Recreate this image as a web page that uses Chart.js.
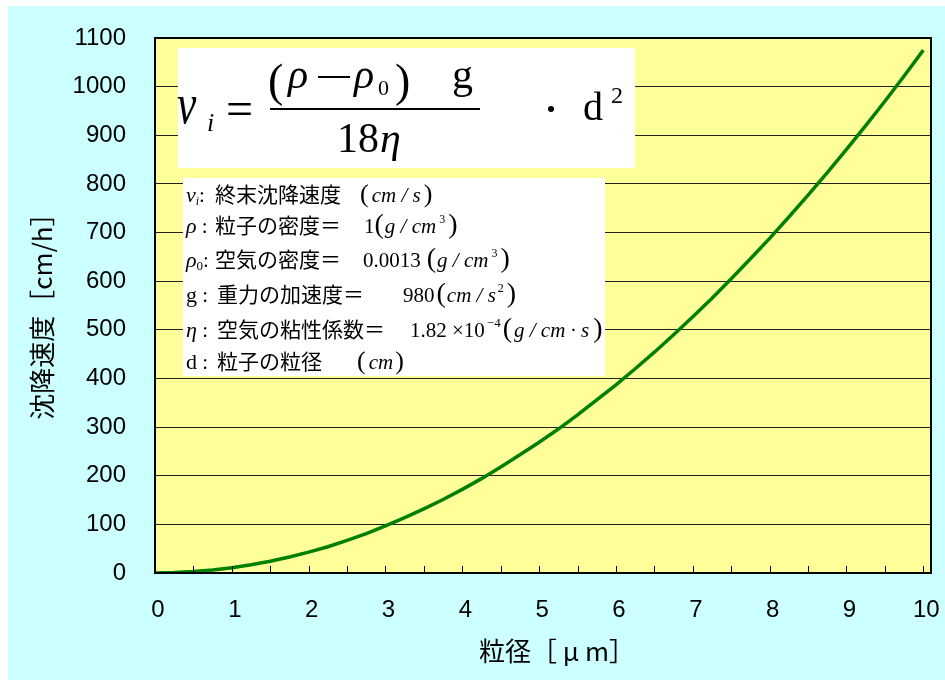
<!DOCTYPE html>
<html>
<head>
<meta charset="utf-8">
<script src="https://cdn.jsdelivr.net/npm/chart.js@4/dist/chart.umd.min.js"></script>
<style>
  html, body { margin: 0; padding: 0; background: #fff; }
  canvas { display: block; }
</style>
</head>
<body>
<canvas id="c" width="945" height="680"></canvas>
<script>
// particle size [um] and settling speed [cm/h]
var sizes = [0, 0.25, 0.5, 0.75, 1, 1.25, 1.5, 1.75, 2, 2.25, 2.5, 2.75, 3, 3.25, 3.5, 3.75,
             4, 4.25, 4.5, 4.75, 5, 5.25, 5.5, 5.75, 6, 6.25, 6.5, 6.75, 7, 7.25, 7.5, 7.75,
             8, 8.25, 8.5, 8.75, 9, 9.25, 9.5, 9.75, 10];
var speeds = [0, 1, 3, 6, 11, 17, 24, 33, 43, 54, 67, 81, 97, 114, 132, 151,
              172, 194, 218, 243, 269, 296, 325, 356, 387, 420, 454, 490, 527, 565, 605, 646,
              688, 732, 777, 823, 871, 920, 970, 1022, 1075];
var xLabels = [0, 1, 2, 3, 4, 5, 6, 7, 8, 9, 10];
var xMinor = [0.5, 1, 1.5, 2, 2.5, 3, 3.5, 4, 4.5, 5, 5.5, 6, 6.5, 7, 7.5, 8, 8.5, 9, 9.5, 10];

var xTitle = '粒径［ μ m］';
var yTitle = '沈降速度［cm/h］';

var SERIF = '"Liberation Serif", "Noto Sans CJK JP", serif';
var SANS = '"Liberation Sans", Arial, sans-serif';
var CJK = '"Noto Sans CJK JP", sans-serif';

// draw a row of text runs one after another, each with its own font / shift
function runs(ctx, x, y, list) {
    list.forEach(function(r) {
        ctx.font = r.f;
        x += r.dx || 0;
        ctx.fillText(r.t, x, y + (r.dy || 0));
        x += ctx.measureText(r.t).width;
    });
    return x;
}

function it(size) { return 'italic ' + size + 'px ' + SERIF; }
function rm(size) { return size + 'px ' + SERIF; }
function jp(size) { return size + 'px ' + CJK; }

function drawFormula(ctx) {
    ctx.fillStyle = '#fff';
    ctx.fillRect(178, 48, 457, 120);
    ctx.fillStyle = '#000';
    ctx.textBaseline = 'alphabetic';
    ctx.textAlign = 'left';

    // big italic nu, a bit narrower than the font gives
    ctx.save();
    ctx.translate(177, 123);
    ctx.scale(0.75, 1);
    ctx.font = it(58);
    ctx.fillText('ν', 0, 0);
    ctx.restore();
    ctx.font = it(26); ctx.fillText('i', 207, 131);
    ctx.font = rm(48); ctx.fillText('=', 226, 125);

    // numerator
    ctx.font = rm(46); ctx.fillText('(', 268, 96);
    ctx.font = it(42); ctx.fillText('ρ', 288, 88);
    ctx.fillRect(318, 76, 32, 2);
    ctx.font = it(42); ctx.fillText('ρ', 354, 88);
    ctx.font = rm(22); ctx.fillText('0', 378, 95);
    ctx.font = rm(46); ctx.fillText(')', 395, 96);
    ctx.font = rm(42); ctx.fillText('g', 452, 88);

    // fraction bar and denominator
    ctx.fillRect(270, 108, 210, 2);
    ctx.font = rm(42); ctx.fillText('18', 337, 152);
    ctx.font = it(42); ctx.fillText('η', 380, 152);

    ctx.beginPath();
    ctx.arc(551, 109, 3, 0, Math.PI * 2);
    ctx.fill();
    ctx.font = rm(40); ctx.fillText('d', 583, 120);
    ctx.font = rm(24); ctx.fillText('2', 611, 103);
}

function drawNotes(ctx) {
    ctx.fillStyle = '#fff';
    ctx.fillRect(183, 178, 422, 198);
    ctx.fillStyle = '#000';
    ctx.textBaseline = 'alphabetic';
    ctx.textAlign = 'left';

    var ys = [202, 233, 267, 302, 337, 369];

    runs(ctx, 186, ys[0], [{t: 'ν', f: it(22)}, {t: 'i', f: it(12), dy: 3}, {t: ':', f: rm(21)}]);
    runs(ctx, 186, ys[1], [{t: 'ρ', f: it(22)}, {t: ' :', f: rm(21)}]);
    runs(ctx, 186, ys[2], [{t: 'ρ', f: it(22)}, {t: '0', f: rm(13), dy: 3}, {t: ':', f: rm(21)}]);
    runs(ctx, 186, ys[3], [{t: 'g', f: rm(22)}, {t: ' :', f: rm(21)}]);
    runs(ctx, 186, ys[4], [{t: 'η', f: it(22)}, {t: ' :', f: rm(21)}]);
    runs(ctx, 186, ys[5], [{t: 'd', f: rm(22)}, {t: ' :', f: rm(21)}]);

    ctx.font = jp(21);
    ctx.fillText('終末沈降速度', 215, ys[0]);
    ctx.fillText('粒子の密度＝', 215, ys[1]);
    ctx.fillText('空気の密度＝', 215, ys[2]);
    ctx.fillText('重力の加速度＝', 217, ys[3]);
    ctx.fillText('空気の粘性係数＝', 217, ys[4]);
    ctx.fillText('粒子の粒径', 217, ys[5]);

    runs(ctx, 360, ys[0], [
        {t: '(', f: rm(26)}, {t: 'cm / s', f: it(21), dx: 3}, {t: ')', f: rm(26), dx: 3}
    ]);
    runs(ctx, 364, ys[1], [
        {t: '1', f: rm(21)}, {t: '(', f: rm(28)}, {t: 'g / cm', f: it(21), dx: 1},
        {t: '3', f: rm(12), dy: -10, dx: 3}, {t: ')', f: rm(28), dx: 3}
    ]);
    runs(ctx, 363, ys[2], [
        {t: '0.0013', f: rm(21)}, {t: '(', f: rm(28), dx: 6}, {t: 'g / cm', f: it(21), dx: 1},
        {t: '3', f: rm(12), dy: -10, dx: 3}, {t: ')', f: rm(28), dx: 3}
    ]);
    runs(ctx, 403, ys[3], [
        {t: '980', f: rm(21)}, {t: '(', f: rm(28), dx: 2}, {t: 'cm / s', f: it(21), dx: 1},
        {t: '2', f: rm(12), dy: -10, dx: 2}, {t: ')', f: rm(28), dx: 3}
    ]);
    runs(ctx, 410, ys[4], [
        {t: '1.82 ×10', f: rm(21)}, {t: '−4', f: rm(13), dy: -10, dx: 2},
        {t: '(', f: rm(28), dx: 2}, {t: 'g / cm · s', f: it(21), dx: 2}, {t: ')', f: rm(28), dx: 4}
    ]);
    runs(ctx, 357, ys[5], [
        {t: '(', f: rm(26)}, {t: 'cm', f: it(21), dx: 3}, {t: ')', f: rm(26), dx: 2}
    ]);
}

var decor = {
    id: 'decor',
    beforeDraw: function(chart) {
        var ctx = chart.ctx, a = chart.chartArea;
        ctx.save();
        ctx.fillStyle = '#fff';
        ctx.fillRect(0, 0, chart.width, chart.height);
        ctx.fillStyle = '#ccffff';
        ctx.fillRect(8, 6, chart.width - 8, chart.height - 6);
        ctx.fillStyle = '#ffff99';
        ctx.fillRect(a.left, a.top, a.right - a.left, a.bottom - a.top);
        ctx.restore();
    },
    afterDraw: function(chart) {
        var ctx = chart.ctx, a = chart.chartArea, xs = chart.scales.x;
        ctx.save();

        // minor ticks on the x axis, pointing into the plot
        ctx.strokeStyle = '#000';
        ctx.lineWidth = 1;
        ctx.beginPath();
        xMinor.forEach(function(v) {
            var px = Math.round(xs.getPixelForValue(v)) + 0.5;
            ctx.moveTo(px, a.bottom);
            ctx.lineTo(px, a.bottom - 7);
        });
        ctx.stroke();

        // plot frame
        ctx.lineWidth = 2;
        ctx.strokeRect(a.left, a.top, a.right - a.left, a.bottom - a.top);

        // axis titles
        ctx.fillStyle = '#000';
        ctx.font = '26px ' + CJK;
        ctx.textAlign = 'center';
        ctx.textBaseline = 'middle';
        ctx.fillText(xTitle, 557, 651);
        ctx.translate(42, 310);
        ctx.rotate(-Math.PI / 2);
        ctx.fillText(yTitle, 0, 0);
        ctx.setTransform(1, 0, 0, 1, 0, 0);

        drawFormula(ctx);
        drawNotes(ctx);
        ctx.restore();
    }
};

function plain(v) { return String(v); }

new Chart(document.getElementById('c'), {
    type: 'line',
    data: {
        datasets: [{
            data: sizes.map(function(x, i) { return {x: x, y: speeds[i]}; }),
            borderColor: '#008000',
            borderWidth: 3.5,
            pointRadius: 0,
            tension: 0,
            fill: false
        }]
    },
    options: {
        responsive: false,
        animation: false,
        devicePixelRatio: 1,
        layout: { padding: { left: 0, top: 38, right: 14, bottom: 0 } },
        plugins: { legend: { display: false }, tooltip: { enabled: false } },
        scales: {
            x: {
                type: 'linear',
                min: 0,
                max: 10.1,
                afterBuildTicks: function(s) {
                    s.ticks = xLabels.map(function(v) { return {value: v}; });
                },
                afterFit: function(s) { s.height = 107; },
                // invisible tick marks give the label gap without side padding
                grid: { drawOnChartArea: false, drawTicks: true, tickLength: 23, tickColor: 'rgba(0,0,0,0)' },
                border: { display: false },
                ticks: {
                    autoSkip: false,
                    maxRotation: 0,
                    padding: 0,
                    labelOffset: 3,
                    color: '#000',
                    callback: plain,
                    font: { family: SANS, size: 24 }
                }
            },
            y: {
                min: 0,
                max: 1100,
                afterFit: function(s) { s.width = 155; },
                grid: { color: '#222', lineWidth: 1, drawTicks: true, tickLength: 29, tickColor: 'rgba(0,0,0,0)' },
                border: { display: false },
                ticks: {
                    stepSize: 100,
                    padding: 0,
                    color: '#000',
                    callback: plain,
                    font: { family: SANS, size: 24 }
                }
            }
        }
    },
    plugins: [decor]
});
</script>
</body>
</html>
